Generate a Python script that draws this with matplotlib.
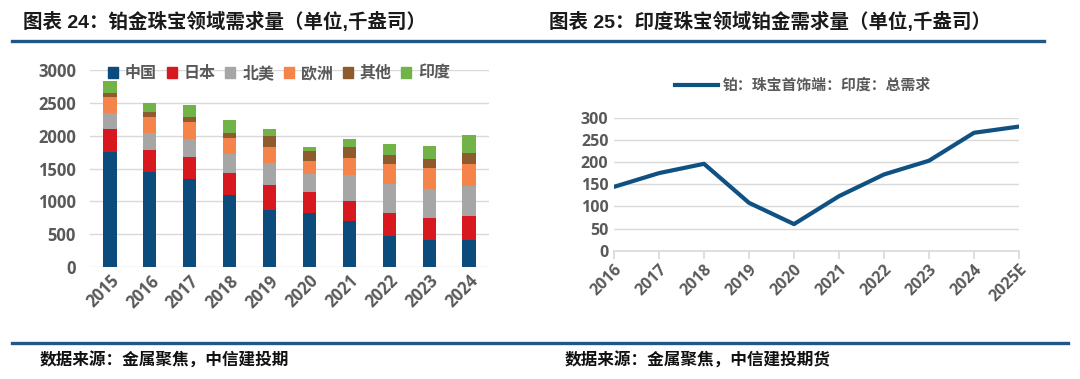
import matplotlib
matplotlib.use("Agg")
import matplotlib.pyplot as plt
from matplotlib.lines import Line2D
from matplotlib.patches import Patch
import numpy as np

plt.rcParams['font.family'] = ['Open Sans', 'Noto Sans CJK SC', 'DejaVu Sans']

# left chart: platinum jewellery demand by region (koz)
years_l = ['2015', '2016', '2017', '2018', '2019', '2020', '2021', '2022', '2023', '2024']
regions = ['中国', '日本', '北美', '欧洲', '其他', '印度']
china = [1756, 1447, 1335, 1097, 868, 827, 696, 477, 406, 406]
japan = [346, 335, 345, 339, 376, 315, 304, 341, 340, 376]
north_america = [248, 264, 274, 285, 335, 274, 406, 441, 437, 447]
europe = [234, 244, 254, 249, 244, 203, 259, 305, 320, 345]
other = [71, 71, 72, 76, 172, 148, 163, 142, 142, 167]
india = [178, 142, 182, 197, 107, 61, 122, 167, 198, 265]
colors_l = ['#0B4C7C', '#D7191F', '#A6A6A6', '#F5844A', '#8E5A2E', '#72B348']

# right chart: India jewellery platinum demand (koz)
years_r = ['2016', '2017', '2018', '2019', '2020', '2021', '2022', '2023', '2024', '2025E']
india_total = [144, 175, 196, 108, 60, 123, 172, 203, 266, 280]
line_label = '铂：珠宝首饰端：印度：总需求'

W, H = 1080, 379
fig = plt.figure(figsize=(W / 100, H / 100), dpi=100)
tick_col = '#595959'
grid_col = '#D9D9D9'

def fx(px):
    return px / W

def fy(py):
    return 1 - py / H

# titles
title_font = ['Liberation Sans', 'Noto Sans CJK SC']
fig.text(fx(23), fy(22), '图表 24：铂金珠宝领域需求量（单位,千盎司）', fontsize=14,
         fontweight='bold', family=title_font, color='#1a1a1a', va='center', ha='left')
fig.text(fx(549), fy(22), '图表 25：印度珠宝领域铂金需求量（单位,千盎司）', fontsize=14,
         fontweight='bold', family=title_font, color='#1a1a1a', va='center', ha='left')
fig.add_artist(Line2D([fx(12), fx(1044)], [fy(41), fy(41)], color='#1F5888', lw=2.4))
fig.add_artist(Line2D([fx(12), fx(1068)], [fy(343), fy(343)], color='#1F5888', lw=2.4))
fig.text(fx(40), fy(361), '数据来源：金属聚焦，中信建投期', fontsize=12, fontstyle='italic',
         family=['Noto Sans CJK SC'], fontweight='bold', color='#111111', va='center')
fig.text(fx(565), fy(361), '数据来源：金属聚焦，中信建投期货', fontsize=12, fontstyle='italic',
         family=['Noto Sans CJK SC'], fontweight='bold', color='#111111', va='center')

# left stacked bars
ax1 = fig.add_axes([fx(90), fy(267), fx(489 - 90), (267 - 70) / H])
x = np.arange(len(years_l))
series = [china, japan, north_america, europe, other, india]
bottom = np.zeros(len(years_l))
for vals, c, name in zip(series, colors_l, regions):
    ax1.bar(x, vals, width=0.33, bottom=bottom, color=c, label=name, zorder=3)
    bottom += np.array(vals)
ax1.set_xlim(-0.5, len(years_l) - 0.5)
ax1.set_ylim(0, 3000)
ax1.set_yticks(range(0, 3001, 500))
ax1.grid(axis='y', color=grid_col, lw=1, zorder=0)
for s in ax1.spines.values():
    s.set_visible(False)
ax1.tick_params(axis='both', length=0, colors=tick_col, labelsize=12)
ax1.tick_params(axis='y', pad=10)
ax1.set_xticks(x)
ax1.set_xticklabels(years_l, rotation=45, ha='right', va='top', rotation_mode='anchor',
                    fontweight='bold')
for lbl in ax1.get_yticklabels():
    lbl.set_fontweight('bold')
handles = [Patch(color=c) for c in colors_l]
leg = ax1.legend(handles, regions, loc='center left', bbox_to_anchor=(0.045, 0.985), ncol=6,
                 frameon=False, borderpad=0, borderaxespad=0,
                 handlelength=0.62, handleheight=0.62, handletextpad=0.45,
                 columnspacing=0.6, prop={'family': ['Noto Sans CJK SC'], 'size': 11.5,
                                          'weight': 'bold'})
for t in leg.get_texts():
    t.set_color(tick_col)

# right line chart
ax2 = fig.add_axes([fx(614), fy(250.7), fx(1019 - 614), (250.7 - 117.7) / H])
xr = np.arange(len(years_r))
ax2.plot(xr, india_total, color='#0F5182', lw=3, label=line_label, zorder=3)
ax2.set_xlim(0, len(years_r) - 1)
ax2.set_ylim(0, 300)
ax2.set_yticks(range(0, 301, 50))
ax2.grid(axis='y', color=grid_col, lw=1, zorder=0)
for k, s in ax2.spines.items():
    s.set_visible(k == 'bottom')
ax2.spines['bottom'].set_color(grid_col)
ax2.spines['bottom'].set_linewidth(1.2)
ax2.tick_params(axis='y', length=0, colors=tick_col, labelsize=11.5, pad=4)
ax2.tick_params(axis='x', length=6, width=1.2, colors=tick_col, labelsize=11.5, pad=2)
ax2.tick_params(axis='x', color=grid_col)
ax2.set_xticks(xr)
ax2.set_xticklabels(years_r, rotation=45, ha='right', va='top', rotation_mode='anchor',
                    fontweight='bold')
for lbl in ax2.get_yticklabels():
    lbl.set_fontweight('bold')
leg2 = ax2.legend(loc='center left', bbox_to_anchor=(0.151, 1.246), frameon=False,
                  borderpad=0, borderaxespad=0, handlelength=2.9, handletextpad=0.3,
                  prop={'family': ['Noto Sans CJK SC'], 'size': 10.7, 'weight': 'bold'})
for t in leg2.get_texts():
    t.set_color(tick_col)

fig.savefig('out.png', dpi=100)
